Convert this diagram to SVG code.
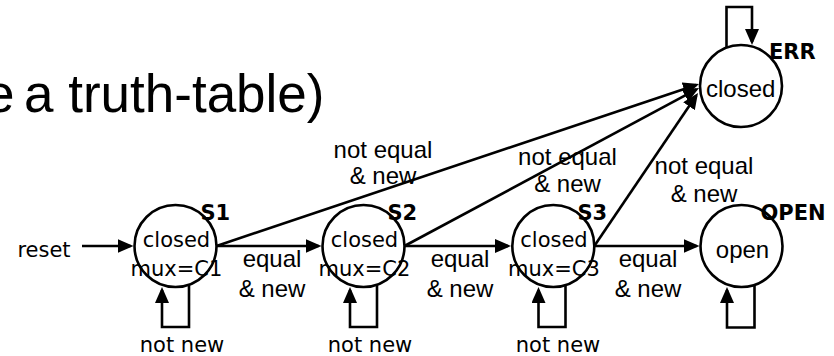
<svg xmlns="http://www.w3.org/2000/svg" width="834" height="356" viewBox="0 0 834 356">
  <style>
    .state { fill: #ffffff; stroke: #000000; stroke-width: 2.6; }
    .edge { fill: none; stroke: #000000; stroke-width: 2.6; marker-end: url(#arrow); }
    .lbl { font-family: "Liberation Sans", Arial, sans-serif; font-size: 24px; fill: #000000; text-anchor: middle; }
    .tah { font-family: "DejaVu Sans", Verdana, sans-serif; font-size: 21px; fill: #000000; text-anchor: middle; }
    .name { font-family: "DejaVu Sans", Verdana, sans-serif; font-size: 21px; font-weight: bold; fill: #000000; }
    .title { font-family: "Liberation Sans", Arial, sans-serif; font-size: 53px; fill: #000000; }
  </style>
  <defs>
    <marker id="arrow" markerUnits="userSpaceOnUse" markerWidth="16" markerHeight="14" refX="13" refY="7" orient="auto">
      <path d="M0,0 L16,7 L0,14 Z" fill="#000000"/>
    </marker>
  </defs>

  <rect width="834" height="356" fill="#ffffff"/>

  <!-- heading fragment -->
  <text class="title" x="-15" y="112">e<tspan x="24">a truth-table)</tspan></text>

  <!-- transitions -->
  <g id="connectors">
    <path class="edge" d="M82,246 H130.5"/>
    <path class="edge" d="M216.5,246 H318.5"/>
    <path class="edge" d="M404.5,246 H508"/>
    <path class="edge" d="M594.3,246 H696.5"/>
    <path class="edge" d="M216.5,246 L696.2,85"/>
    <path class="edge" d="M404.5,246 L696.4,89.4"/>
    <path class="edge" d="M594.3,246 L696.3,95.5"/>
    <!-- self loops -->
    <path class="edge" d="M189,285 V327 H162 V290"/>
    <path class="edge" d="M377,285 V327 H350 V290"/>
    <path class="edge" d="M565.5,285 V327 H538.5 V290"/>
    <path class="edge" d="M754.5,285 V327.5 H727 V290"/>
    <path class="edge" d="M726.5,48 V7 H752 V42"/>

    <text class="tah" x="44" y="257">reset</text>
    <text class="lbl" x="272" y="267">equal</text>
    <text class="lbl" x="272" y="297">&amp; new</text>
    <text class="lbl" x="460" y="267">equal</text>
    <text class="lbl" x="460" y="297">&amp; new</text>
    <text class="lbl" x="648" y="267">equal</text>
    <text class="lbl" x="648" y="297">&amp; new</text>
    <text class="lbl" x="383" y="158">not equal</text>
    <text class="lbl" x="383" y="183.5">&amp; new</text>
    <text class="lbl" x="567.5" y="165">not equal</text>
    <text class="lbl" x="567.5" y="191.5">&amp; new</text>
    <text class="lbl" x="704" y="173.5">not equal</text>
    <text class="lbl" x="704" y="201.5">&amp; new</text>
    <text class="tah" x="182" y="351.5">not new</text>
    <text class="tah" x="370" y="351.5">not new</text>
    <text class="tah" x="558" y="351.5">not new</text>
  </g>

  <!-- states -->
  <g id="S1">
    <circle class="state" cx="175.5" cy="246" r="41"/>
    <text class="tah" x="176.5" y="247">closed</text>
    <text class="tah" x="176.5" y="276">mux=C1</text>
    <text class="name" x="200.5" y="219.5">S1</text>
  </g>
  <g id="S2">
    <circle class="state" cx="363.5" cy="246" r="41"/>
    <text class="tah" x="364.5" y="247">closed</text>
    <text class="tah" x="364.5" y="276">mux=C2</text>
    <text class="name" x="387.5" y="219.5">S2</text>
  </g>
  <g id="S3">
    <circle class="state" cx="553.3" cy="246" r="41"/>
    <text class="tah" x="554" y="247">closed</text>
    <text class="tah" x="554" y="276">mux=C3</text>
    <text class="name" x="577.5" y="219.5">S3</text>
  </g>
  <g id="OPEN">
    <circle class="state" cx="741.5" cy="246" r="41"/>
    <text class="lbl" x="742.5" y="258">open</text>
    <text class="name" x="760.5" y="220">OPEN</text>
  </g>
  <g id="ERR">
    <circle class="state" cx="741" cy="86" r="41"/>
    <text class="lbl" x="740.7" y="96.5">closed</text>
    <text class="name" x="769" y="58.5">ERR</text>
  </g>
</svg>
